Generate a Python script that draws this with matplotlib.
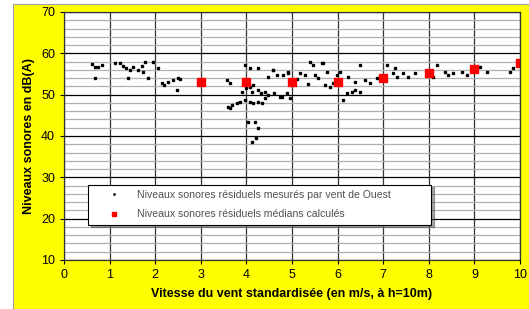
import numpy as np
import matplotlib.pyplot as plt
from matplotlib.patches import Rectangle
from matplotlib.legend_handler import HandlerLine2D

# niveaux mesures (vent de Ouest)
vent_mes = [0.61, 0.68, 0.75, 0.83, 0.68, 1.12, 1.23, 1.30, 1.37, 1.45, 1.52, 1.40, 1.62, 1.70,
            1.74, 1.78, 1.84, 1.96, 2.06, 2.14, 2.20, 2.28, 2.39, 2.47, 2.50, 2.54, 3.57, 3.64,
            3.97, 4.08, 4.25, 4.58, 4.67, 4.80, 4.91, 4.48,
            4.00, 4.08, 4.15, 4.12, 3.90, 4.26, 4.33, 4.41, 4.48, 4.60, 4.74, 4.88, 4.41, 4.34,
            4.25, 4.15, 4.08, 3.97, 3.86, 3.79, 3.68, 3.60, 3.64, 4.03, 4.19, 4.26, 4.22, 4.12,
            4.77, 4.96, 4.91, 5.18, 5.29, 5.39, 5.47, 5.50, 5.57, 5.69, 5.72, 5.83, 5.90, 5.76,
            5.98, 6.05, 6.12, 6.20, 6.31, 6.38, 6.49, 6.49, 6.23, 6.38, 6.60, 6.71, 6.86, 7.08,
            7.26, 7.30, 7.22, 7.44, 7.55, 7.70, 8.17, 8.10, 8.36, 8.43, 8.54, 8.72, 8.83, 9.12,
            9.27, 9.78, 9.85, 5.65, 4.59, 5.10, 5.35]
niv_mes = [57.4, 56.8, 56.7, 57.2, 54.0, 57.6, 57.6, 56.9, 56.4, 56.0, 56.7, 54.0, 56.0, 56.9,
           55.5, 57.9, 54.0, 57.9, 56.4, 52.8, 52.3, 53.0, 53.5, 51.1, 54.0, 53.8, 53.5, 52.8,
           57.2, 56.4, 56.4, 56.0, 54.7, 54.7, 55.2, 54.3,
           51.6, 51.9, 52.3, 50.7, 50.7, 51.1, 50.4, 50.7, 49.9, 50.4, 49.5, 50.4, 49.2, 48.0,
           48.3, 48.0, 48.3, 48.7, 48.3, 48.0, 47.5, 47.1, 46.8, 43.4, 43.4, 41.9, 39.5, 38.6,
           49.5, 49.2, 55.5, 55.2, 54.7, 58.0, 57.2, 54.7, 54.0, 57.6, 52.3, 51.9, 52.8, 55.5,
           54.7, 55.5, 48.7, 50.3, 50.7, 51.1, 50.7, 57.2, 54.3, 53.1, 53.5, 52.8, 54.0, 57.2,
           56.4, 54.3, 55.2, 55.2, 54.3, 55.2, 57.2, 54.3, 55.5, 54.7, 55.2, 55.5, 54.7, 56.8,
           55.5, 55.5, 56.4, 57.6, 56.0, 53.8, 52.5]

# niveaux medians calcules
vent_med = [3, 4, 5, 6, 7, 8, 9, 10]
niv_med = [53.1, 53.1, 53.1, 53.1, 54.0, 55.2, 56.1, 57.6]


class RightMarker(HandlerLine2D):
    # marker placed at the right end of the handle, like excel does
    def get_xdata(self, legend, xdescent, ydescent, width, height, fontsize):
        return [-xdescent, -xdescent + width], [-xdescent + 0.9 * width]


fig = plt.figure(figsize=(5.29, 3.09), dpi=100)
fig.patch.set_facecolor('white')
fig.patches.append(Rectangle((13 / 529, 0), 1 - 13 / 529, 1 - 4 / 309, transform=fig.transFigure,
                             facecolor='#ffff00', edgecolor='#a0a0a0', linewidth=0.8, zorder=-10))

ax = fig.add_axes([64 / 529, 49 / 309, 456 / 529, 248 / 309])
ax.set_facecolor('white')

ax.set_xlim(0, 10)
ax.set_ylim(10, 70)
ax.set_xticks(range(0, 11))
ax.set_yticks(range(10, 71, 10))
ax.set_yticks(range(10, 71, 2), minor=True)
ax.grid(True, which='minor', axis='y', color='#b0b0b0', linewidth=0.9)
ax.grid(True, which='major', axis='y', color='black', linewidth=0.9)
ax.grid(True, which='major', axis='x', color='#333333', linewidth=0.9)
ax.set_axisbelow(True)
ax.tick_params(axis='y', which='minor', length=0)
ax.tick_params(axis='both', which='major', length=3, labelsize=9, colors='black')
for s in ax.spines.values():
    s.set_color('#333333')
    s.set_linewidth(0.9)

l1, = ax.plot(vent_mes, niv_mes, linestyle='none', marker='s', markersize=1.8, color='black',
              label='Niveaux sonores résiduels mesurés par vent de Ouest')
l2, = ax.plot(vent_med, niv_med, linestyle='none', marker='s', markersize=5.6, color='#ff0000',
              label='Niveaux sonores résiduels médians calculés')

ax.set_xlabel('Vitesse du vent standardisée (en m/s, à h=10m)', fontsize=9, fontweight='bold',
              family='Liberation Sans', labelpad=5)
ax.set_ylabel('Niveaux sonores en dB(A)', fontsize=9, fontweight='bold',
              family='Liberation Sans', labelpad=4)
for lbl in ax.get_xticklabels() + ax.get_yticklabels():
    lbl.set_family('Liberation Sans')

leg = ax.legend(loc='lower left', bbox_to_anchor=(0.042, 0.121, 0.774, 0.165), mode='expand',
                frameon=True, fancybox=False, shadow=True, markerscale=0.45,
                handlelength=3.8, handletextpad=0.3, borderpad=0.5, labelspacing=0.9,
                handler_map={l1: RightMarker(), l2: RightMarker()},
                prop={'family': 'Liberation Sans', 'size': 7.6})
leg.get_frame().set_edgecolor('black')
leg.get_frame().set_linewidth(0.8)
for t in leg.get_texts():
    t.set_color('#505050')

plt.savefig('out.png', dpi=100)
